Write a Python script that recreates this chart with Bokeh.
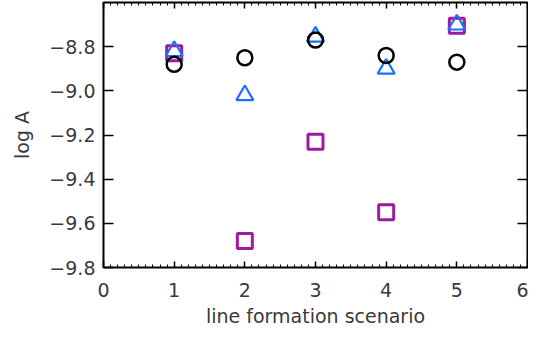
from bokeh.plotting import figure
from bokeh.models import LinearAxis, FixedTicker, SingleIntervalTicker, Range1d, CustomLabelingPolicy
from bokeh.embed import file_html
from bokeh.resources import INLINE

scenario = [1, 2, 3, 4, 5]
circle_vals = [-8.88, -8.85, -8.77, -8.84, -8.87]
triangle_vals = [-8.82, -9.02, -8.755, -8.90, -8.70]
square_vals = [-8.83, -9.68, -9.23, -9.55, -8.705]

y_ticks = [-9.8, -9.6, -9.4, -9.2, -9.0, -8.8]
y_labels = ["\u22129.8", "\u22129.6", "\u22129.4", "\u22129.2", "\u22129.0", "\u22128.8"]

FONT = "DejaVu Sans"
TXT = "#3a3a3a"
FS = "19px"

p = figure(width=528, height=333, output_backend="svg", toolbar_location=None,
           x_range=Range1d(0, 6), y_range=Range1d(-9.8, -8.6),
           x_axis_location=None, y_axis_location=None,
           min_border_left=103, min_border_right=1, min_border_top=2, min_border_bottom=66)
p.grid.visible = False
p.outline_line_color = "black"
p.outline_line_width = 2
p.background_fill_color = "white"
p.border_fill_color = "white"

hide_labels = CustomLabelingPolicy(code="""
const arr = Array.from(indices);
for (const i of arr) { indices.unset(i); }
return indices;
""")

def style(ax, labels=True):
    ax.axis_line_color = None
    ax.major_tick_line_color = "black"
    ax.major_tick_line_width = 1.5
    ax.minor_tick_line_color = "black"
    ax.minor_tick_line_width = 1
    ax.major_tick_out = 0
    ax.minor_tick_out = 0
    ax.major_label_text_font = FONT
    ax.major_label_text_font_size = FS
    ax.major_label_text_color = TXT
    ax.axis_label_text_font = FONT
    ax.axis_label_text_font_size = FS
    ax.axis_label_text_color = TXT
    ax.axis_label_text_font_style = "normal"
    if not labels:
        ax.major_label_policy = hide_labels
        ax.major_label_text_font_size = "0px"
        ax.major_label_standoff = 0

# y axes
yl = LinearAxis(ticker=FixedTicker(ticks=y_ticks), axis_label="log A")
style(yl)
yl.major_tick_in = 10
yl.major_label_overrides = {v: s for v, s in zip(y_ticks, y_labels)}
yl.major_label_standoff = 8
yl.axis_label_standoff = 13
p.add_layout(yl, "left")

yr = LinearAxis(ticker=FixedTicker(ticks=y_ticks))
style(yr, labels=False)
yr.major_tick_in = 10
p.add_layout(yr, "right")

# x axes
xb = LinearAxis(ticker=SingleIntervalTicker(interval=1, num_minor_ticks=10),
                axis_label="line formation scenario")
style(xb)
xb.major_tick_in = 6
xb.minor_tick_in = 3
xb.major_label_standoff = 15
xb.axis_label_standoff = 5
p.add_layout(xb, "below")

xt = LinearAxis(ticker=SingleIntervalTicker(interval=1, num_minor_ticks=10))
style(xt, labels=False)
xt.major_tick_in = 6
xt.minor_tick_in = 3
p.add_layout(xt, "above")

p.scatter(scenario, square_vals, marker="square", size=15, fill_color=None,
          line_color="#a0199f", line_width=3)
p.scatter(scenario, triangle_vals, marker="triangle", size=17, fill_color=None,
          line_color="#1f6fff", line_width=2.2)
p.scatter(scenario, circle_vals, marker="circle", size=15, fill_color=None,
          line_color="black", line_width=2.5)

open("out.html", "w").write(file_html(p, INLINE))
